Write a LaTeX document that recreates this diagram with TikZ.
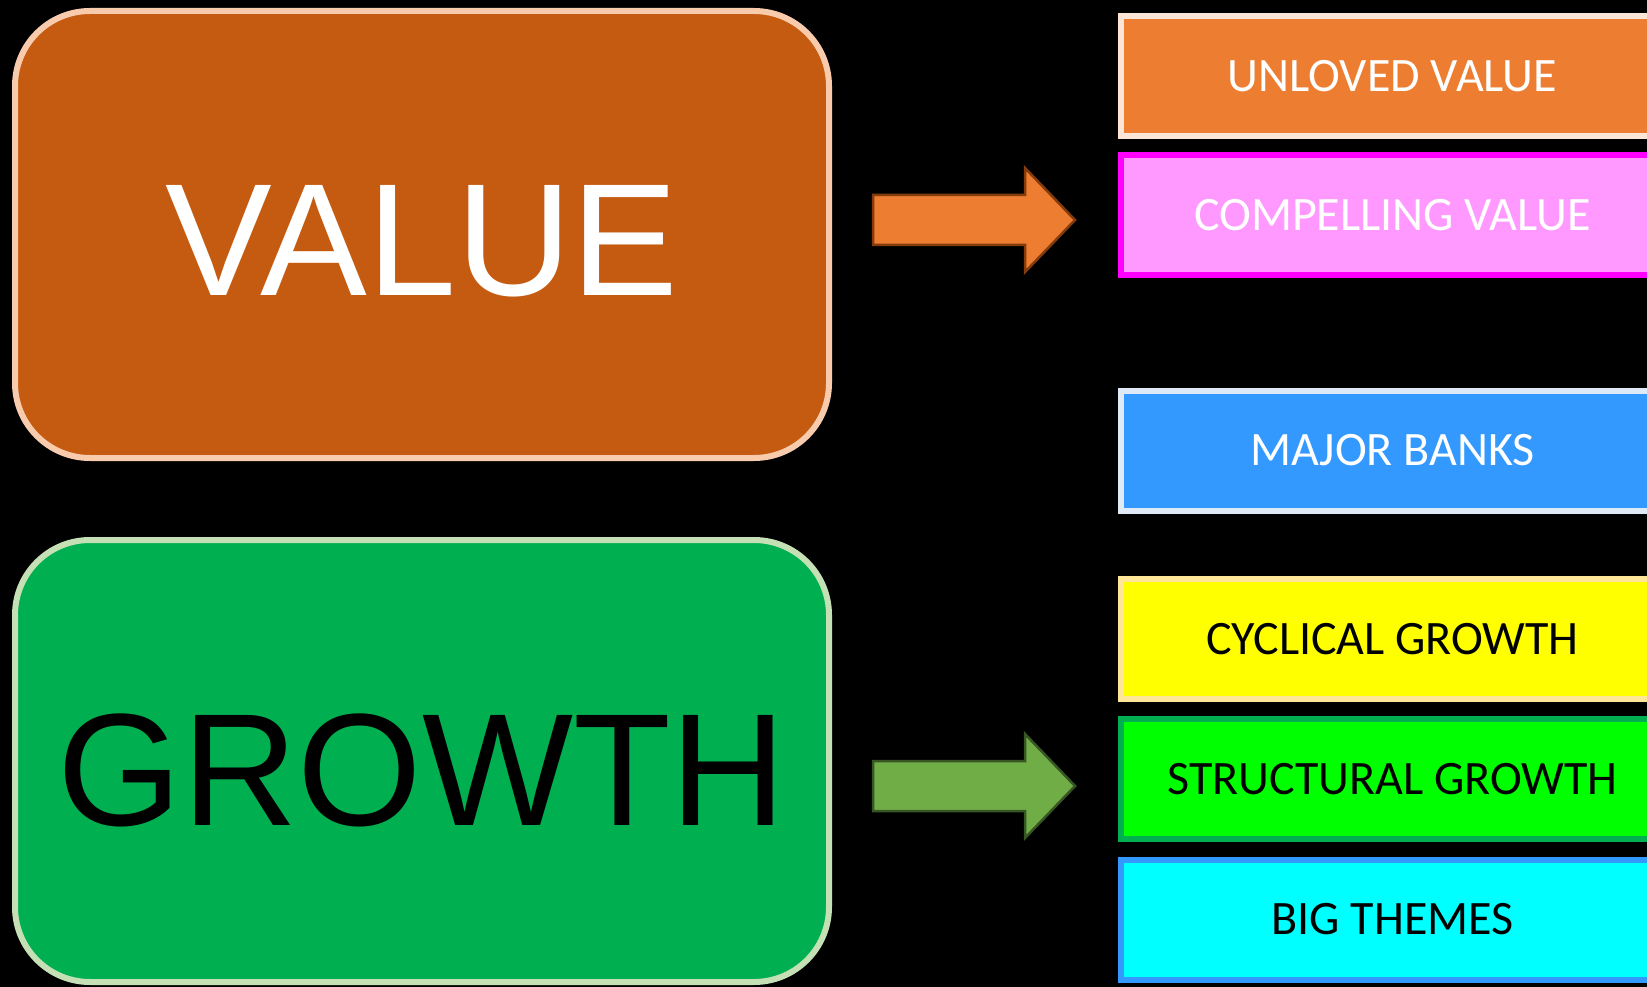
\documentclass[tikz,border=0pt]{standalone}
\usepackage{fontspec}
\setmainfont{Carlito}
\newfontfamily\arialfont{Liberation Sans}

\definecolor{valuefill}{HTML}{C55A11}
\definecolor{valueline}{HTML}{F8CBAD}
\definecolor{growthfill}{HTML}{00B050}
\definecolor{growthline}{HTML}{C5E0B4}
\definecolor{orangefill}{HTML}{ED7D31}
\definecolor{orangeline}{HTML}{843C0C}
\definecolor{olivefill}{HTML}{70AD47}
\definecolor{oliveline}{HTML}{375623}
\definecolor{unlovedline}{HTML}{FBE5D6}
\definecolor{pinkfill}{HTML}{FF99FF}
\definecolor{pinkline}{HTML}{FF00FF}
\definecolor{bankfill}{HTML}{3399FF}
\definecolor{bankline}{HTML}{DEEBF7}
\definecolor{cyclefill}{HTML}{FFFF00}
\definecolor{cycleline}{HTML}{FFE699}
\definecolor{limefill}{HTML}{00FF00}
\definecolor{themefill}{HTML}{00FFFF}

\begin{document}
\begin{tikzpicture}[
        x=1pt, y=-1pt,
        bigbox/.style={draw, rounded corners=75pt, line width=6pt, minimum width=814pt,
            text height=129pt, text depth=0pt,
            font=\arialfont\fontsize{160}{170}\selectfont},
        pickbox/.style={draw, rectangle, line width=6pt, minimum width=543pt, minimum height=120pt,
            font=\fontsize{48}{56}\selectfont},
        blockarrow/.style={line width=2.5pt, line join=miter},
    ]
        % Background and page frame
        \fill[black] (0,0) rectangle (1647,987);
        \clip (0,0) rectangle (1647,987);

        % Define Style Nodes
        \node[bigbox, fill=valuefill, draw=valueline, text=white, minimum height=447pt, text height=121pt] (value) at (422,234.5) {VALUE};
        \node[bigbox, fill=growthfill, draw=growthline, text=black, minimum height=442pt] (growth) at (422,761) {GROWTH};

        % Define Bucket Nodes (right column)
        \node[pickbox, fill=orangefill, draw=unlovedline, text=white] (unloved) at (1392.5,76.5) {UNLOVED VALUE};
        \node[pickbox, fill=pinkfill, draw=pinkline, text=white] (compelling) at (1392.5,214.75) {COMPELLING VALUE};
        \node[pickbox, fill=bankfill, draw=bankline, text=white] (banks) at (1392.5,450.5) {MAJOR BANKS};
        \node[pickbox, fill=cyclefill, draw=cycleline, text=black] (cyclical) at (1392.5,639) {CYCLICAL GROWTH};
        \node[pickbox, fill=limefill, draw=growthfill, text=black] (structural) at (1392.5,779) {STRUCTURAL GROWTH};
        \node[pickbox, fill=themefill, draw=bankfill, text=black] (themes) at (1392.5,919.5) {BIG THEMES};

        % Draw Block Arrows (style -> buckets)
        \draw[blockarrow, fill=orangefill, draw=orangeline] (873,195) -- (1025,195) -- (1025,168) -- (1075,220)
            -- (1025,272) -- (1025,245) -- (873,245) -- cycle;
        \draw[blockarrow, fill=olivefill, draw=oliveline] (873,761) -- (1025,761) -- (1025,734) -- (1075,786)
            -- (1025,838) -- (1025,811) -- (873,811) -- cycle;
    \end{tikzpicture}
\end{document}
